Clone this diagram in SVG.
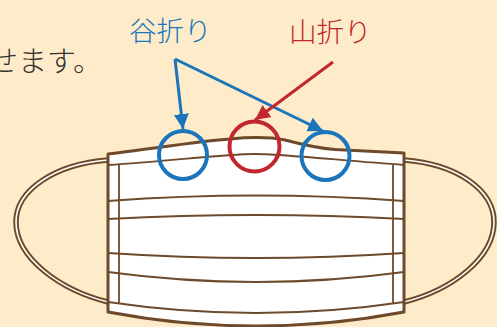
<svg xmlns="http://www.w3.org/2000/svg" width="497" height="327" viewBox="0 0 497 327">
  <style>
    .jp { font-family: "Noto Sans CJK JP", "Noto Sans", sans-serif; font-weight: 300; }
    .ink { fill: none; stroke: #6e4a2b; stroke-linecap: round; stroke-linejoin: round; }
    .loop-out { fill: none; stroke: #6e4a2b; stroke-width: 5.5; }
    .loop-in { fill: none; stroke: #ffffff; stroke-width: 1.6; }
    .blue { stroke: #1b75bc; }
    .red { stroke: #c1272d; }
  </style>
  <defs>
    <marker id="headBlue" markerUnits="userSpaceOnUse" markerWidth="16" markerHeight="16" viewBox="0 0 16 16" refX="15" refY="8" orient="auto">
      <path d="M0,0.5 L15,8 L0,15.5 Z" fill="#1b75bc"/>
    </marker>
    <marker id="headRed" markerUnits="userSpaceOnUse" markerWidth="16" markerHeight="16" viewBox="0 0 16 16" refX="15" refY="8" orient="auto">
      <path d="M0,0.5 L15,8 L0,15.5 Z" fill="#c1272d"/>
    </marker>
  </defs>

  <rect width="497" height="327" fill="#feebc9"/>

  <!-- sentence tail at upper left -->
  <text class="jp" x="-11" y="72" font-size="29" fill="#333333">せます。</text>

  <!-- mask -->
  <g id="ear-left">
    <path class="loop-out" d="M108,160 C 55,164 16,190 16,222 C 16,258 60,290 108,302"/>
    <path class="loop-in" d="M108,160 C 55,164 16,190 16,222 C 16,258 60,290 108,302"/>
  </g>
  <g id="ear-right">
    <path class="loop-out" d="M404,160 C 457,164 494,190 494,222 C 494,258 452,290 404,302"/>
    <path class="loop-in" d="M404,160 C 457,164 494,190 494,222 C 494,258 452,290 404,302"/>
  </g>
  <g id="mask-body">
    <path d="M108,154 C 150,149 200,141 230,139 C 250,137 270,137 285,140 C 300,144 315,148 335,149.5 L404,153 L404,312 Q 256,340 108,312 Z" fill="#ffffff" stroke="#6e4a2b" stroke-width="3" stroke-linejoin="round"/>
    <path class="ink" stroke-width="1.8" d="M108,165 C 170,161 225,154 254,154 C 285,154 345,161 404,165"/>
    <path class="ink" stroke-width="1.8" d="M119,165 V302 M393,165 V302"/>
    <path class="ink" stroke-width="1.8" d="M108,201 Q 256,190 404,201"/>
    <path class="ink" stroke-width="1.8" d="M108,219 Q 256,211 404,219"/>
    <path class="ink" stroke-width="1.8" d="M108,253 Q 256,263 404,253"/>
    <path class="ink" stroke-width="1.8" d="M108,272 Q 256,292 404,272"/>
    <path class="ink" stroke-width="1.8" d="M108,302 Q 256,324 404,302"/>
  </g>

  <!-- fold markers -->
  <g id="valley-left">
    <circle cx="183" cy="155" r="24" fill="none" stroke="#1b75bc" stroke-width="4"/>
  </g>
  <g id="mountain">
    <circle cx="254.5" cy="146.5" r="25" fill="none" stroke="#c1272d" stroke-width="4"/>
  </g>
  <g id="valley-right">
    <circle cx="325.5" cy="156" r="24" fill="none" stroke="#1b75bc" stroke-width="4"/>
  </g>

  <g id="label-valley">
    <text class="jp" x="129" y="41" font-size="27.5" fill="#1b75bc">谷折り</text>
  </g>
  <g id="label-mountain">
    <text class="jp" x="289" y="42" font-size="27.5" fill="#c1272d">山折り</text>
  </g>

  <g id="connectors" fill="none" stroke-width="3">
    <path class="blue" d="M175,59 L183,129" marker-end="url(#headBlue)"/>
    <path class="blue" d="M175,59 L323,131" marker-end="url(#headBlue)"/>
    <path class="red" d="M333,62 L255,120" marker-end="url(#headRed)"/>
  </g>
</svg>
